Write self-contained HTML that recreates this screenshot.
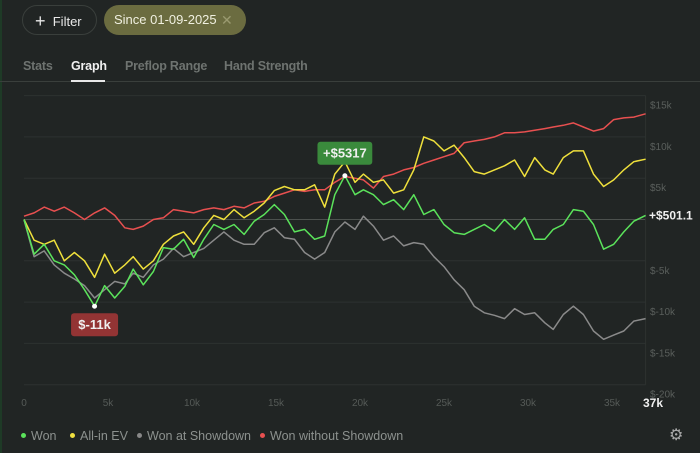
<!DOCTYPE html>
<html><head><meta charset="utf-8">
<style>
html,body{margin:0;padding:0;}
body{width:700px;height:453px;background:#212524;font-family:"Liberation Sans",sans-serif;overflow:hidden;position:relative;color:#ddd;}
.chip{position:absolute;top:5px;height:30px;border-radius:16px;box-sizing:border-box;font-size:13px;line-height:30px;}
.tab{position:absolute;top:59px;font-size:12.5px;font-weight:bold;color:#6e7370;letter-spacing:-0.2px;}
.leg{position:absolute;top:429px;font-size:12.5px;color:#8c918e;}
.leg i{display:inline-block;width:5px;height:5px;border-radius:50%;margin-right:5px;vertical-align:middle;position:relative;top:-1px;}
</style></head>
<body>
<div style="position:absolute;left:0;top:0;width:2px;height:453px;background:#1e3a26"></div>
<div class="chip" style="left:22px;width:75px;border:1px solid #3a3f3c;color:#e8e8e8;padding-left:12px;"><span style="font-size:18px;vertical-align:-1px">+</span>&nbsp; Filter</div>
<div class="chip" style="left:104px;width:142px;background:#6b6c40;color:#f0f0e0;padding-left:10px;">Since 01-09-2025</div>
<div style="position:absolute;left:221px;top:12px;color:#9a9a70;font-size:14px">✕</div>
<div class="tab" style="left:23px">Stats</div>
<div class="tab" style="left:71px;color:#f0f0f0">Graph</div>
<div class="tab" style="left:125px">Preflop Range</div>
<div class="tab" style="left:224px">Hand Strength</div>
<div style="position:absolute;left:0;top:81px;width:700px;height:1px;background:#3a3f3c"></div>
<div style="position:absolute;left:71px;top:80px;width:34px;height:2px;background:#e8e8e8"></div>

<svg id="chart" width="700" height="453" style="position:absolute;left:0;top:0" xmlns="http://www.w3.org/2000/svg"></svg>

<div class="leg" style="left:21px"><i style="background:#5be35b"></i>Won</div>
<div class="leg" style="left:70px"><i style="background:#f0e040"></i>All-in EV</div>
<div class="leg" style="left:137px"><i style="background:#888"></i>Won at Showdown</div>
<div class="leg" style="left:260px"><i style="background:#e85050"></i>Won without Showdown</div>
<div style="position:absolute;left:669px;top:425px;font-size:16px;color:#aaa">⚙</div>

<script>
const hands=[0,0.6,1.2,1.8,2.4,3,3.6,4.2,4.8,5.4,6,6.5,7.1,7.7,8.3,8.9,9.5,10.1,10.7,11.3,11.9,12.5,13.1,13.7,14.3,14.9,15.5,16.1,16.7,17.3,17.9,18.5,19.1,19.7,20.2,20.8,21.4,22,22.6,23.2,23.8,24.4,25,25.6,26.2,26.8,27.4,28,28.6,29.2,29.8,30.4,31,31.5,32.1,32.7,33.3,33.9,34.5,35.1,35.7,36.3,37];
const won=[0,-4.2,-3,-5,-5.5,-6.7,-8.5,-10.5,-8,-9.5,-8.1,-6,-7.9,-6.3,-3.4,-3.6,-2.4,-4.6,-2.4,-0.6,-1.2,-0.6,-1.8,-0.2,0.6,1.8,0.6,-1.5,-1.2,-2.4,-2,3,5.3,3,3.6,3,1.8,2.4,1.2,3,0.6,1.2,-0.6,-1.6,-1.8,-1.2,-0.6,-1.4,0,-1.2,0.2,-2.4,-2.4,-1.2,-0.6,1.2,1.0,-0.6,-3.6,-3,-1.5,-0.2,0.5];
const allinEV=[0,-2.5,-3,-2.5,-5,-4,-5,-7,-4.2,-6.5,-5.5,-4.5,-6,-5,-3,-2,-1.5,-3,-1,0.5,0,1.2,0.2,1,2,3.5,4,3.6,3.6,4.2,1.5,5.5,7,4.5,5.5,4.5,4.8,3.2,3.6,6,10,9.5,8.3,9,7.5,5.8,5.5,6,6.5,7.2,5.2,7.5,6,5.5,7.5,8.3,8.3,5.5,4,4.8,6,7,7.3];
const showdown=[0,-4.5,-3.8,-5.5,-6.5,-7.2,-8,-9.5,-8.5,-7.5,-7.8,-6.5,-7,-5.5,-4.8,-3.5,-4.5,-4,-3.5,-2.5,-1.5,-2.5,-3,-3,-1.6,-1,-2.2,-2.4,-4,-4.8,-4,-1.5,-0.3,-1.2,0.4,-0.8,-2.5,-2,-3.2,-2.8,-3,-4.5,-5.7,-7.3,-8.5,-10.5,-11.3,-11.6,-12,-10.8,-11.5,-11.3,-12.5,-13.3,-11.5,-10.5,-11.5,-13.5,-14.5,-14,-13.5,-12.3,-12];
const nonShowdown=[0.4,0.8,1.5,1,1.5,0.8,0,0.8,1.4,0.5,-1,-1.2,-0.8,0,0.2,1.2,1,0.8,1.2,1.4,1.2,1.6,1.4,2,2.2,2.8,3.2,3.6,3.4,3.6,3.6,4.5,5.2,5,4.8,3.8,5.2,5.5,6,6.3,6.8,7.2,7.6,8,9.3,9.5,9.7,10,10.5,10.5,10.6,10.8,11,11.2,11.4,11.7,11.2,10.7,11,12.1,12.3,12.4,12.8];
const yTicks=[15,10,5,0,-5,-10,-15,-20];
const yTickLabels=["$15k","$10k","$5k","","$-5k","$-10k","$-15k","$-20k"];
const xTicks=[0,5,10,15,20,25,30,35];
const xTickLabels=["0","5k","10k","15k","20k","25k","30k","35k"];

const NS="http://www.w3.org/2000/svg";
const svg=document.getElementById('chart');
const X0=24,X1=645.6,XMAX=37;
const Y0=219.5,PER=41.3/5;
const xs=h=>X0+(X1-X0)*h/XMAX;
const ys=v=>Y0-v*PER;
function mk(tag,attrs){const e=document.createElementNS(NS,tag);for(const k in attrs)e.setAttribute(k,attrs[k]);svg.appendChild(e);return e;}

yTicks.forEach((t,i)=>{
  const g=mk('line',{x1:X0,x2:X1,y1:ys(t),y2:ys(t),stroke:t===0?'#4c514e':'#2d3230','stroke-width':1});
  
  
  if(yTickLabels[i]){
    const tx=mk('text',{x:650,y:ys(t)+13,fill:'#5a5f5c','font-size':10,'font-family':'Liberation Sans'});
    tx.textContent=yTickLabels[i];
    
    
  }
});
const vb=mk('line',{x1:X1,x2:X1,y1:ys(15),y2:ys(-20),stroke:'#2d3230','stroke-width':1});


xTicks.forEach((t,i)=>{
  const tx=mk('text',{x:xs(t),y:406,fill:'#555a57','font-size':10,'text-anchor':'middle','font-family':'Liberation Sans'});
  tx.textContent=xTickLabels[i];
  
  
});
const last=mk('text',{x:643,y:407,fill:'#f0f0f0','font-size':12,'font-weight':'bold','font-family':'Liberation Sans'});
last.textContent="37k";



function series(vals,color,name){
  const d=vals.map((v,i)=>(i?'L':'M')+xs(hands[i]).toFixed(1)+','+ys(v).toFixed(1)).join(' ');
  const p=mk('path',{d:d,fill:'none',stroke:color,'stroke-width':1.5,'stroke-linejoin':'round'});
  
  
}
series(showdown,'#8a8a8a','line-won-at-showdown');
series(nonShowdown,'#e85050','line-won-without-showdown');
series(allinEV,'#efe03c','line-all-in-ev');
series(won,'#5be35b','line-won');

let mx=0,mn=0;won.forEach((v,i)=>{if(v>won[mx])mx=i;if(v<won[mn])mn=i;});
function badge(i,text,bg,above,name){
  const cx=xs(hands[i]),cy=ys(won[i]);
  const dot=mk('circle',{cx:cx,cy:cy,r:2.5,fill:'#fff'});
  
  
  const w=text.length*7.8+8,h=23;
  const by=above?cy-34:cy+7;
  const r=mk('rect',{x:cx-w/2,y:by,width:w,height:h,rx:3,fill:bg});
  
  
  const t=mk('text',{x:cx,y:by+16,fill:'#f0f0f0','font-size':13,'font-weight':'bold','text-anchor':'middle','font-family':'Liberation Sans'});
  t.textContent=text;
  
  
}
badge(mx,"+$5317",'#3a8a3c',true,'max-profit');
badge(mn,"$-11k",'#933434',false,'min-profit');
const cur=mk('text',{x:649,y:ys(won[won.length-1])+4,fill:'#f0f0f0','font-size':12,'font-weight':'bold','font-family':'Liberation Sans'});
cur.textContent="+$501.1";


</script>
</body></html>
